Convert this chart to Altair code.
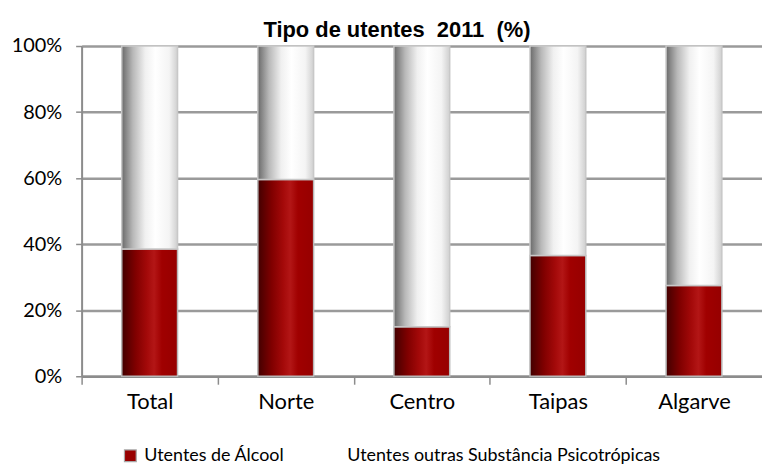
import altair as alt
import pandas as pd

categories = ["Total", "Norte", "Centro", "Taipas", "Algarve"]
alcool = [38.5, 59.6, 15.0, 36.6, 27.5]
outras = [61.5, 40.4, 85.0, 63.4, 72.5]
series = ["Utentes de Álcool", "Utentes outras Substância Psicotrópicas"]
series_colors = ["#990000", "#ffffff"]
series_strokes = ["#a8a8a8", "#ffffff"]
y_ticks = [0, 20, 40, 60, 80, 100]

df = pd.DataFrame({"cat": categories, "alcool": alcool, "outras": outras})
df["top"] = df["alcool"] + df["outras"]
legend_df = pd.DataFrame({"s": series})

red_grad = alt.Gradient(
    gradient="linear", x1=0, x2=1, y1=0, y2=0,
    stops=[
        alt.GradientStop(color="#420000", offset=0),
        alt.GradientStop(color="#800000", offset=0.25),
        alt.GradientStop(color="#a30909", offset=0.45),
        alt.GradientStop(color="#b31616", offset=0.58),
        alt.GradientStop(color="#a00000", offset=0.72),
        alt.GradientStop(color="#960000", offset=1),
    ],
)
white_grad = alt.Gradient(
    gradient="linear", x1=0, x2=1, y1=0, y2=0,
    stops=[
        alt.GradientStop(color="#6a6a6a", offset=0),
        alt.GradientStop(color="#b8b8b8", offset=0.2),
        alt.GradientStop(color="#f0f0f0", offset=0.42),
        alt.GradientStop(color="#ffffff", offset=0.6),
        alt.GradientStop(color="#f4f4f4", offset=0.85),
        alt.GradientStop(color="#cfcfcf", offset=1),
    ],
)

FONT = "Lato"
W = 684
step = W / len(categories)

x_enc = alt.X(
    "cat:N",
    sort=categories,
    scale=alt.Scale(paddingInner=0.59, paddingOuter=0.295),
    axis=alt.Axis(
        title=None, labelAngle=0, tickOffset=-step / 2, labelOffset=step / 2,
        tickSize=8, tickColor="#8c8c8c", tickWidth=1.5,
        domainColor="#8c8c8c", domainWidth=2.5,
        labelFont=FONT, labelFontSize=22, labelColor="black", labelPadding=7,
    ),
)

y_axis = alt.Axis(
    title=None, values=y_ticks, labelExpr="datum.value + '%'",
    grid=True, gridColor="#9a9a9a", gridWidth=2.5,
    tickSize=6, tickColor="#8c8c8c", tickWidth=1.5,
    domainColor="#8c8c8c", domainWidth=2,
    labelFont=FONT, labelFontSize=20, labelColor="black", labelPadding=14,
)

base = alt.Chart(df)

bottom = base.mark_bar(fill=red_grad, stroke="#b8b8b8", strokeWidth=1.5).encode(
    x=x_enc,
    y=alt.Y("alcool:Q", scale=alt.Scale(domain=[0, 100], nice=False), axis=y_axis),
)

top = base.mark_bar(fill=white_grad, stroke="#c8c8c8", strokeWidth=1.5).encode(
    x=x_enc,
    y=alt.Y("alcool:Q"),
    y2="top:Q",
)

legend_layer = alt.Chart(legend_df).mark_square(size=0, filled=True, opacity=1).encode(
    color=alt.Color(
        "s:N",
        scale=alt.Scale(domain=series, range=series_colors),
        legend=alt.Legend(
            title=None, orient="none", legendX=40, legendY=403,
            direction="horizontal", symbolType="square", symbolSize=140,
            symbolOpacity=1,
            symbolStrokeWidth=1.2,
            labelFont=FONT, labelFontSize=18, labelColor="black",
            labelOffset=5, columnPadding=40, labelLimit=0,
        ),
    ),
    stroke=alt.Stroke(
        "s:N",
        scale=alt.Scale(domain=series, range=series_strokes),
    ),
)

chart = (
    alt.layer(bottom, top, legend_layer)
    .properties(
        width=W,
        height=332,
        autosize=alt.AutoSizeParams(type="none"),
        padding={"left": 74, "top": 37, "right": 0, "bottom": 88},
        title=alt.TitleParams(
            "Tipo de utentes\u00a0 2011\u00a0 (%)",
            font="Liberation Sans", fontSize=22, fontWeight="bold",
            anchor="middle", frame="group", dx=-25, offset=-6, color="black",
        ),
    )
    .configure_view(stroke=None)
    .configure(background="white")
)

chart.save("out.html", embed_options={"renderer": "svg", "actions": False})
